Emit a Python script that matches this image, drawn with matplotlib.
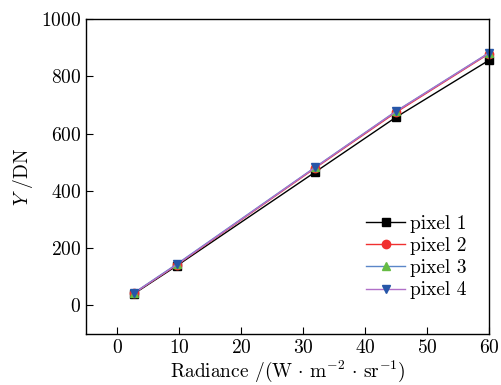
import matplotlib
matplotlib.use("Agg")
import matplotlib.pyplot as plt

radiance = [2.7, 9.7, 32.0, 45.0, 60.0]
pixel1 = [40, 139, 466, 657, 856]
pixel2 = [42, 142, 480, 674, 879]
pixel3 = [43, 145, 483, 678, 882]
pixel4 = [42, 143, 482, 677, 881]
labels = ["pixel 1", "pixel 2", "pixel 3", "pixel 4"]

plt.rcParams['font.family'] = 'serif'
plt.rcParams['font.serif'] = ['cmr10', 'DejaVu Serif']
plt.rcParams['mathtext.fontset'] = 'cm'
plt.rcParams['axes.formatter.use_mathtext'] = True

fig = plt.figure(figsize=(5.02, 3.85), dpi=100)
ax = fig.add_axes([86/502, 1-334/385, (489-86)/502, (334-19)/385])

styles = [
    dict(color='black', marker='s', mfc='black', mec='black'),
    dict(color='#f03030', marker='o', mfc='#f03030', mec='#f03030'),
    dict(color='#5b86c8', marker='^', mfc='#66bb44', mec='#66bb44'),
    dict(color='#b070c8', marker='v', mfc='#2656a8', mec='#2656a8'),
]
for ys, lab, st in zip([pixel1, pixel2, pixel3, pixel4], labels, styles):
    ax.plot(radiance, ys, label=lab, lw=1.0, ms=6, clip_on=False, **st)

ax.set_xlim(-5, 60)
ax.set_ylim(-100, 1000)
ax.set_xticks([0, 10, 20, 30, 40, 50, 60])
ax.set_yticks([0, 200, 400, 600, 800, 1000])
ax.tick_params(direction='in', labelsize=14, top=False, right=False, length=5)
for s in ax.spines.values():
    s.set_linewidth(1.0)
ax.set_xlabel(r'Radiance /(W$\,\cdot\,$m$^{-2}\,\cdot\,$sr$^{-1}$)', fontsize=14, labelpad=1)
ax.set_ylabel(r'$Y$ /DN', fontsize=14, labelpad=4)
leg = ax.legend(loc='lower right', frameon=False, fontsize=14, handlelength=2.0,
                handletextpad=0.26, labelspacing=0.22, borderpad=0, borderaxespad=0,
                bbox_to_anchor=(0.945, 0.11))

fig.savefig('out.png', dpi=100)
